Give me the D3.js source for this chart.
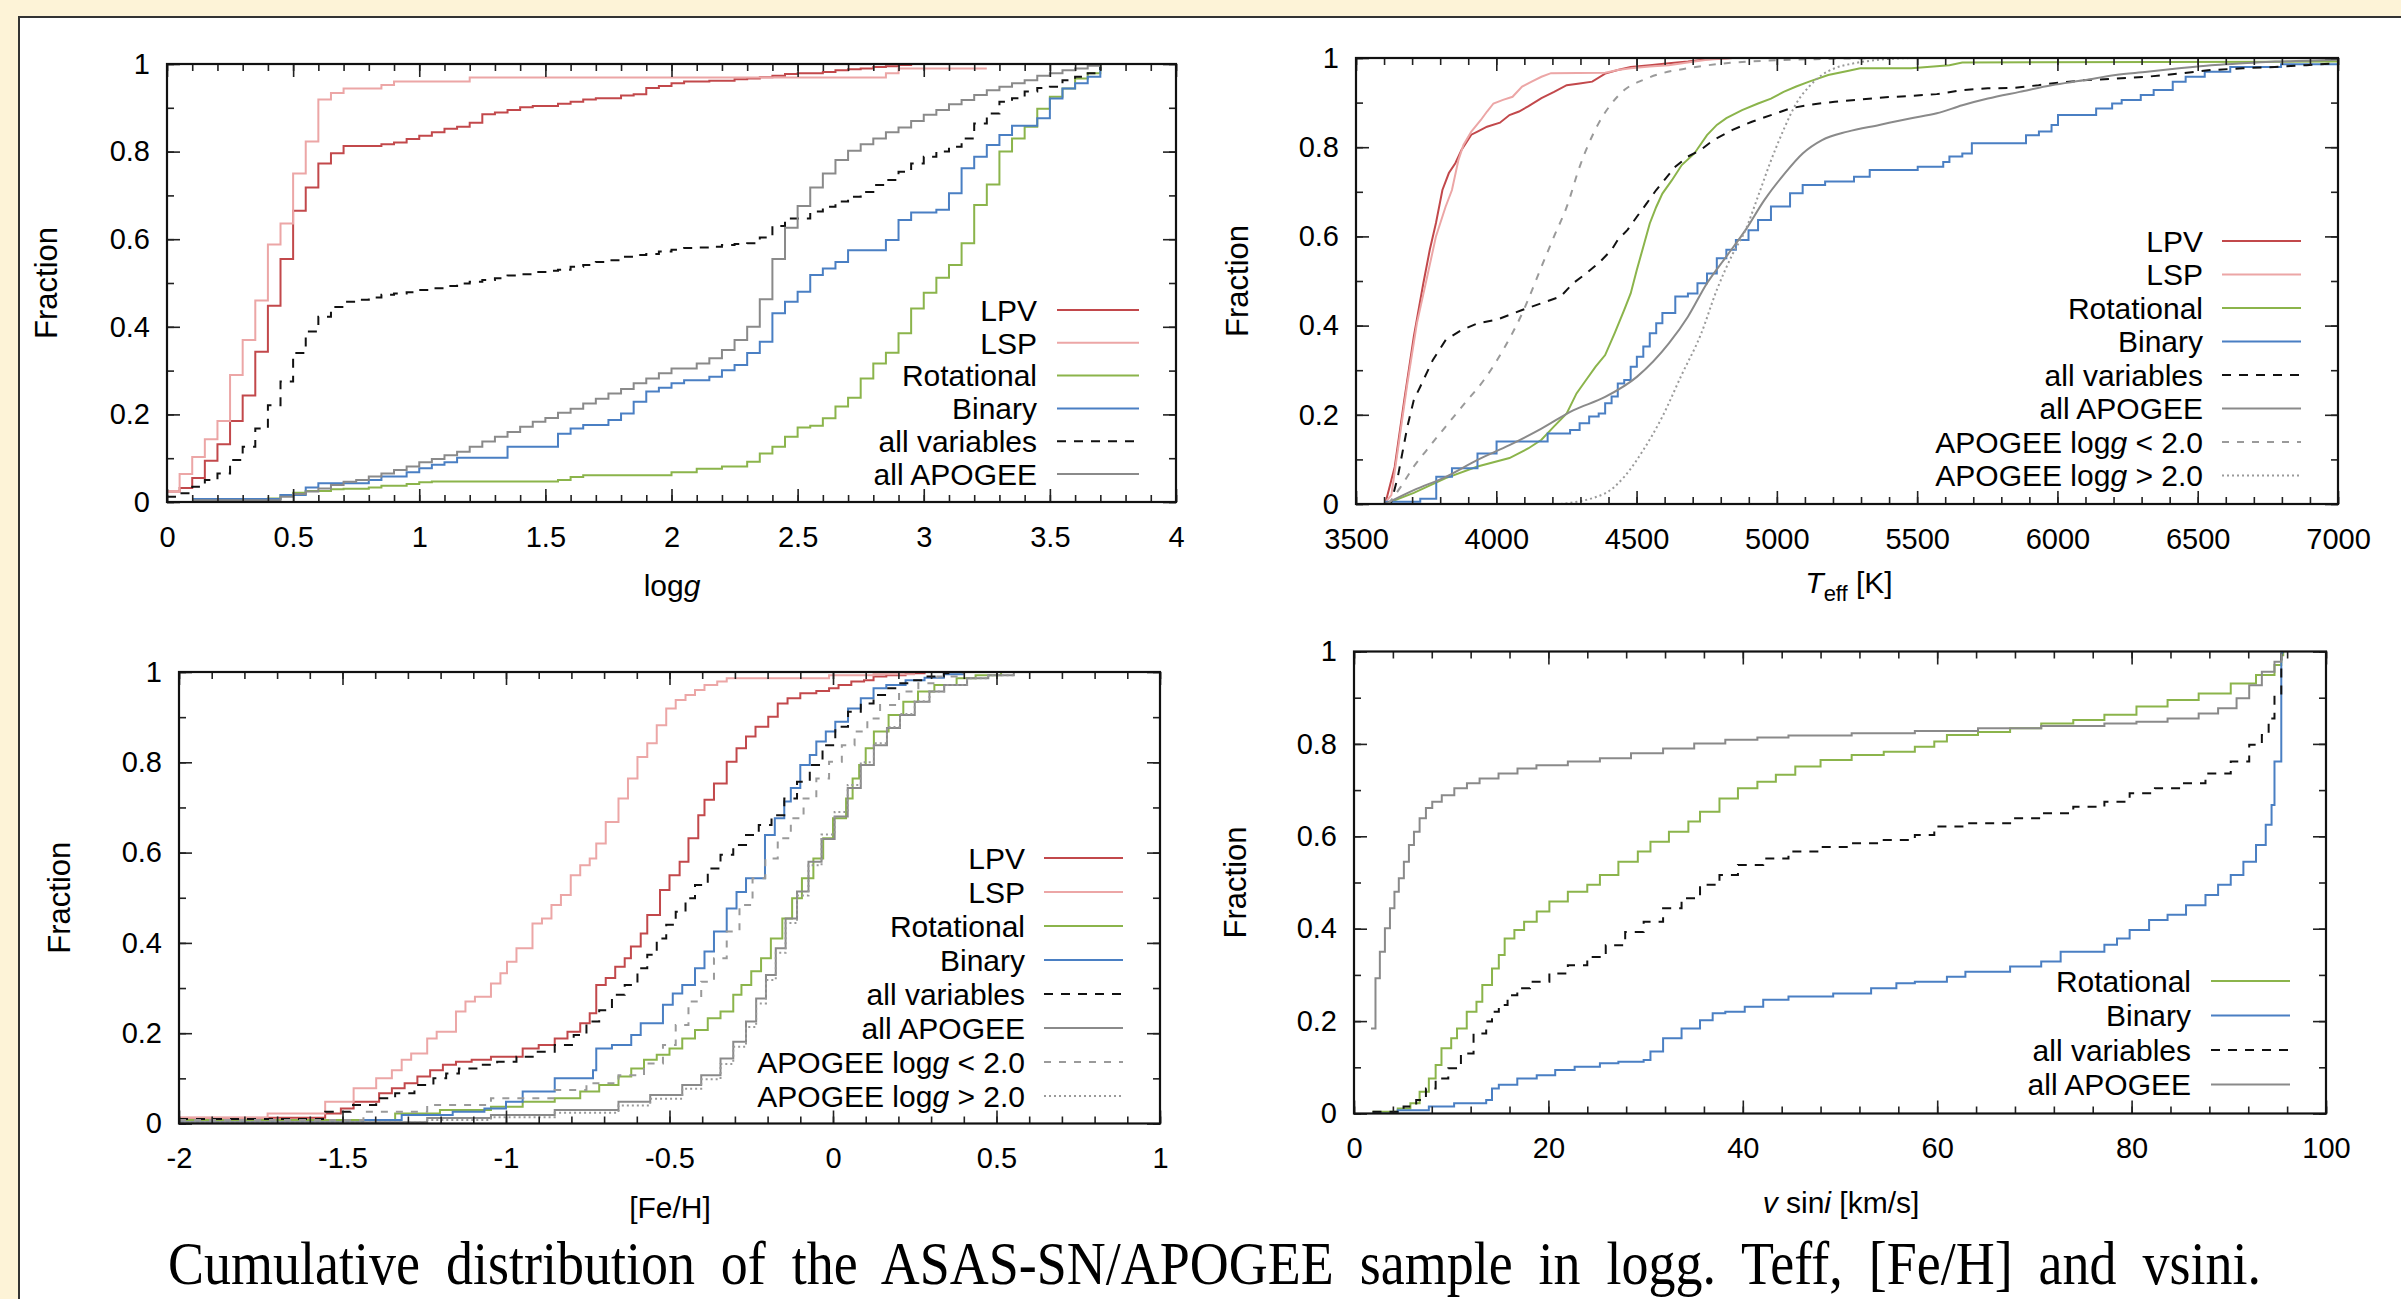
<!DOCTYPE html>
<html>
<head>
<meta charset="utf-8">
<script src="https://cdn.jsdelivr.net/npm/d3@7"></script>
<style>
  body { margin: 0; background: #fdf3d7; }
  svg { display: block; }
  text { font-family: 'Liberation Sans', Arial, sans-serif; fill: #000; }
  text.caption { font-family: 'Liberation Serif', 'DejaVu Serif', serif; }
</style>
</head>
<body>
<svg id="fig" width="2401" height="1299"></svg>
<script>
// ---- data: cumulative fractions, [x, F] ----

// logg panel
const loggLPV = [[0,0.024],[0.05,0.032],[0.1,0.055],[0.15,0.094],[0.2,0.132],[0.25,0.185],[0.3,0.243],[0.35,0.343],[0.4,0.448],[0.45,0.555],[0.5,0.665],[0.55,0.718],[0.6,0.773],[0.65,0.796],[0.7,0.813],[0.85,0.817],[0.9,0.821],[0.95,0.829],[1.0,0.836],[1.05,0.844],[1.1,0.852],[1.15,0.857],[1.2,0.866],[1.25,0.885],[1.3,0.889],[1.35,0.895],[1.4,0.901],[1.45,0.904],[1.55,0.909],[1.6,0.914],[1.65,0.919],[1.7,0.922],[1.8,0.928],[1.85,0.931],[1.9,0.945],[1.95,0.95],[2.0,0.956],[2.05,0.96],[2.15,0.962],[2.25,0.965],[2.3,0.967],[2.35,0.97],[2.4,0.973],[2.45,0.977],[2.5,0.979],[2.6,0.982],[2.65,0.986],[2.7,0.988],[2.75,0.99],[2.8,0.993],[2.85,0.995],[2.9,0.998],[2.95,1.0],[3.05,1.0]];
const loggLSP = [[0,0.024],[0.05,0.064],[0.1,0.103],[0.15,0.143],[0.2,0.185],[0.25,0.29],[0.3,0.37],[0.35,0.46],[0.4,0.588],[0.45,0.636],[0.5,0.75],[0.55,0.823],[0.6,0.919],[0.65,0.934],[0.7,0.944],[0.85,0.952],[0.9,0.96],[1.2,0.969],[2.85,0.979],[2.9,0.99],[3.25,0.99]];
const loggRot = [[0.35,0.0],[0.4,0.008],[0.45,0.016],[0.5,0.021],[0.55,0.025],[0.65,0.029],[0.7,0.03],[0.8,0.033],[0.85,0.037],[0.95,0.041],[1.0,0.045],[1.05,0.047],[1.55,0.05],[1.6,0.057],[1.65,0.061],[2.0,0.068],[2.1,0.076],[2.2,0.081],[2.3,0.092],[2.35,0.111],[2.4,0.126],[2.45,0.149],[2.5,0.17],[2.55,0.174],[2.6,0.191],[2.65,0.218],[2.7,0.238],[2.75,0.282],[2.8,0.316],[2.85,0.341],[2.9,0.385],[2.95,0.442],[3.0,0.478],[3.05,0.512],[3.1,0.541],[3.15,0.591],[3.2,0.678],[3.25,0.725],[3.3,0.8],[3.35,0.83],[3.4,0.857],[3.45,0.898],[3.5,0.925],[3.55,0.944],[3.6,0.967],[3.65,0.979],[3.7,0.998]];
const loggBin = [[0.1,0.007],[0.45,0.016],[0.55,0.033],[0.6,0.043],[0.8,0.05],[0.85,0.058],[0.95,0.068],[1.0,0.077],[1.05,0.085],[1.1,0.091],[1.15,0.101],[1.35,0.126],[1.55,0.156],[1.6,0.168],[1.65,0.176],[1.75,0.187],[1.8,0.202],[1.85,0.229],[1.9,0.252],[1.95,0.261],[2.0,0.271],[2.05,0.278],[2.15,0.286],[2.2,0.301],[2.25,0.313],[2.3,0.34],[2.35,0.366],[2.4,0.431],[2.45,0.457],[2.5,0.48],[2.55,0.518],[2.6,0.533],[2.65,0.548],[2.7,0.575],[2.85,0.598],[2.9,0.644],[2.95,0.661],[3.05,0.667],[3.1,0.705],[3.15,0.762],[3.2,0.788],[3.25,0.815],[3.3,0.838],[3.35,0.859],[3.45,0.876],[3.5,0.921],[3.55,0.944],[3.6,0.956],[3.65,0.971],[3.7,0.994]];
const loggAllVar = [[0,0.012],[0.05,0.02],[0.1,0.035],[0.15,0.05],[0.2,0.065],[0.25,0.096],[0.3,0.126],[0.35,0.168],[0.4,0.221],[0.45,0.275],[0.5,0.34],[0.55,0.389],[0.6,0.423],[0.65,0.445],[0.7,0.457],[0.75,0.462],[0.8,0.467],[0.85,0.473],[0.9,0.476],[0.95,0.479],[1.0,0.484],[1.05,0.488],[1.1,0.493],[1.15,0.499],[1.2,0.503],[1.25,0.507],[1.3,0.511],[1.35,0.517],[1.4,0.52],[1.45,0.525],[1.5,0.528],[1.55,0.53],[1.6,0.537],[1.65,0.541],[1.7,0.548],[1.75,0.552],[1.8,0.56],[1.85,0.564],[1.9,0.566],[1.95,0.572],[2.0,0.576],[2.05,0.58],[2.1,0.581],[2.15,0.583],[2.2,0.587],[2.25,0.589],[2.3,0.591],[2.35,0.604],[2.4,0.63],[2.45,0.647],[2.55,0.663],[2.6,0.674],[2.65,0.686],[2.7,0.697],[2.75,0.708],[2.8,0.724],[2.85,0.735],[2.9,0.754],[2.95,0.773],[3.0,0.788],[3.05,0.8],[3.1,0.811],[3.15,0.83],[3.2,0.864],[3.25,0.887],[3.3,0.914],[3.35,0.922],[3.4,0.937],[3.45,0.945],[3.5,0.948],[3.55,0.963],[3.6,0.971],[3.65,0.979],[3.7,0.994]];
const loggApogee = [[0.1,0.004],[0.45,0.012],[0.5,0.018],[0.55,0.024],[0.6,0.031],[0.65,0.039],[0.7,0.046],[0.75,0.05],[0.8,0.058],[0.85,0.065],[0.9,0.073],[0.95,0.081],[1.0,0.091],[1.05,0.098],[1.1,0.107],[1.15,0.115],[1.2,0.126],[1.25,0.138],[1.3,0.149],[1.35,0.16],[1.4,0.172],[1.45,0.183],[1.5,0.192],[1.55,0.204],[1.6,0.213],[1.65,0.225],[1.7,0.236],[1.75,0.248],[1.8,0.258],[1.85,0.271],[1.9,0.282],[1.95,0.294],[2.0,0.305],[2.1,0.316],[2.15,0.328],[2.2,0.347],[2.25,0.37],[2.3,0.40],[2.35,0.463],[2.4,0.555],[2.45,0.626],[2.5,0.676],[2.55,0.718],[2.6,0.75],[2.65,0.781],[2.7,0.802],[2.75,0.817],[2.8,0.83],[2.85,0.844],[2.9,0.855],[2.95,0.87],[3.0,0.884],[3.05,0.895],[3.1,0.908],[3.15,0.918],[3.2,0.929],[3.25,0.94],[3.3,0.948],[3.35,0.956],[3.4,0.963],[3.45,0.973],[3.5,0.979],[3.55,0.986],[3.6,0.99],[3.65,0.996],[3.7,1.0]];

// Teff panel
const teffLPV = [[3604,0],[3638,0.083],[3672,0.233],[3706,0.375],[3740,0.495],[3763,0.57],[3785,0.63],[3808,0.704],[3831,0.742],[3854,0.764],[3876,0.794],[3911,0.828],[3933,0.835],[3967,0.846],[4013,0.855],[4047,0.872],[4081,0.88],[4115,0.892],[4161,0.91],[4206,0.924],[4251,0.939],[4297,0.943],[4342,0.947],[4388,0.965],[4433,0.973],[4479,0.98],[4547,0.984],[4615,0.988],[4683,0.992],[4751,0.997],[4842,1.0],[5388,1.0]];
const teffLSP = [[3600,0],[3626,0.02],[3649,0.121],[3683,0.27],[3717,0.405],[3751,0.502],[3785,0.6],[3819,0.666],[3842,0.704],[3865,0.771],[3883,0.805],[3911,0.835],[3945,0.861],[3967,0.88],[3990,0.898],[4024,0.906],[4058,0.913],[4092,0.936],[4126,0.947],[4161,0.958],[4195,0.966],[4388,0.967],[4433,0.973],[4479,0.977],[4547,0.981],[4615,0.984],[4706,0.992],[4751,0.996],[4842,1.0],[5300,1.0]];
const teffRot = [[3604,0],[3706,0.025],[3820,0.058],[3933,0.084],[4047,0.103],[4115,0.125],[4161,0.144],[4206,0.174],[4251,0.203],[4286,0.248],[4320,0.278],[4354,0.308],[4388,0.334],[4422,0.383],[4456,0.435],[4479,0.472],[4501,0.525],[4524,0.577],[4547,0.629],[4570,0.666],[4592,0.696],[4626,0.726],[4661,0.76],[4706,0.786],[4751,0.827],[4786,0.85],[4820,0.865],[4876,0.883],[4933,0.898],[4979,0.909],[5024,0.924],[5069,0.936],[5115,0.947],[5183,0.962],[5252,0.971],[5297,0.977],[5479,0.977],[5615,0.984],[5661,0.99],[7000,0.992]];
const teffBin = [[3604,0.005],[3729,0.012],[3786,0.061],[3842,0.08],[3933,0.113],[4001,0.14],[4183,0.158],[4263,0.166],[4297,0.181],[4331,0.196],[4365,0.203],[4388,0.226],[4411,0.241],[4433,0.27],[4456,0.278],[4479,0.308],[4501,0.33],[4524,0.353],[4547,0.383],[4570,0.405],[4592,0.428],[4638,0.465],[4683,0.472],[4717,0.495],[4751,0.517],[4786,0.551],[4820,0.57],[4854,0.592],[4899,0.614],[4933,0.637],[4979,0.667],[5047,0.697],[5092,0.715],[5172,0.723],[5275,0.734],[5331,0.749],[5502,0.756],[5593,0.767],[5615,0.779],[5661,0.786],[5695,0.809],[5888,0.827],[5934,0.835],[5979,0.85],[6002,0.872],[6138,0.887],[6195,0.898],[6229,0.906],[6297,0.917],[6343,0.928],[6411,0.947],[6457,0.958],[6525,0.969],[6616,0.98],[6797,0.986],[7000,0.992]];
const teffAllVar = [[3604,0],[3626,0.005],[3649,0.061],[3683,0.173],[3706,0.233],[3729,0.263],[3774,0.323],[3820,0.368],[3876,0.39],[3933,0.405],[4001,0.413],[4047,0.424],[4092,0.435],[4161,0.45],[4229,0.465],[4274,0.495],[4320,0.517],[4365,0.54],[4411,0.57],[4433,0.592],[4467,0.614],[4501,0.644],[4536,0.674],[4570,0.704],[4604,0.73],[4638,0.756],[4683,0.779],[4729,0.794],[4774,0.816],[4842,0.839],[4911,0.857],[4979,0.872],[5047,0.887],[5115,0.895],[5206,0.902],[5297,0.907],[5388,0.912],[5479,0.915],[5570,0.919],[5661,0.928],[5752,0.932],[5843,0.933],[5933,0.939],[5979,0.943],[6093,0.95],[6207,0.954],[6320,0.958],[6434,0.965],[6548,0.973],[6661,0.977],[6775,0.98],[6888,0.984],[7000,0.988]];
const teffApogee = [[3604,0],[3706,0.031],[3820,0.061],[3933,0.099],[4047,0.132],[4161,0.169],[4274,0.21],[4388,0.24],[4501,0.285],[4615,0.36],[4683,0.42],[4751,0.495],[4820,0.555],[4888,0.614],[4956,0.682],[5024,0.738],[5092,0.786],[5161,0.816],[5252,0.835],[5365,0.85],[5479,0.865],[5570,0.876],[5661,0.894],[5752,0.909],[5865,0.924],[5979,0.939],[6093,0.95],[6207,0.962],[6320,0.969],[6434,0.977],[6548,0.984],[6661,0.988],[6775,0.992],[6888,0.994],[7000,0.996]];
const teffLow = [[3615,0],[3660,0.039],[3706,0.084],[3752,0.121],[3820,0.174],[3888,0.226],[3956,0.278],[4024,0.345],[4092,0.427],[4161,0.532],[4206,0.6],[4251,0.666],[4297,0.756],[4365,0.854],[4411,0.898],[4456,0.928],[4524,0.951],[4592,0.966],[4683,0.977],[4797,0.987],[4956,0.994],[5183,0.998],[5411,1.0]];
const teffHigh = [[4229,0],[4388,0.024],[4456,0.061],[4524,0.121],[4592,0.196],[4661,0.29],[4729,0.38],[4786,0.48],[4842,0.56],[4888,0.614],[4933,0.69],[4979,0.77],[5024,0.839],[5069,0.898],[5115,0.936],[5161,0.962],[5206,0.977],[5274,0.988],[5365,0.996],[5479,1.0]];

// [Fe/H] panel
const fehLPV = [[-2,0.013],[-1.553,0.022],[-1.505,0.033],[-1.466,0.048],[-1.388,0.067],[-1.349,0.078],[-1.31,0.089],[-1.271,0.104],[-1.232,0.118],[-1.193,0.13],[-1.153,0.137],[-1.105,0.141],[-1.046,0.148],[-0.949,0.166],[-0.9,0.174],[-0.851,0.188],[-0.812,0.203],[-0.773,0.222],[-0.744,0.244],[-0.724,0.307],[-0.695,0.322],[-0.666,0.347],[-0.637,0.366],[-0.618,0.392],[-0.588,0.421],[-0.568,0.462],[-0.529,0.517],[-0.5,0.55],[-0.469,0.58],[-0.442,0.632],[-0.412,0.683],[-0.393,0.717],[-0.364,0.753],[-0.325,0.801],[-0.295,0.831],[-0.266,0.857],[-0.237,0.879],[-0.198,0.901],[-0.169,0.93],[-0.139,0.942],[-0.1,0.953],[-0.051,0.958],[-0.012,0.964],[0.017,0.971],[0.056,0.979],[0.095,0.982],[0.124,0.99],[0.163,0.993],[0.222,0.997],[0.28,1.0]];
const fehLSP = [[-2,0.013],[-1.729,0.022],[-1.553,0.048],[-1.466,0.078],[-1.397,0.1],[-1.349,0.118],[-1.319,0.141],[-1.29,0.155],[-1.241,0.188],[-1.212,0.203],[-1.153,0.248],[-1.124,0.27],[-1.095,0.281],[-1.046,0.31],[-1.017,0.333],[-0.997,0.358],[-0.968,0.388],[-0.919,0.443],[-0.89,0.454],[-0.861,0.484],[-0.832,0.506],[-0.802,0.55],[-0.773,0.572],[-0.744,0.587],[-0.724,0.62],[-0.695,0.668],[-0.656,0.72],[-0.627,0.764],[-0.598,0.812],[-0.568,0.842],[-0.539,0.882],[-0.51,0.919],[-0.481,0.938],[-0.451,0.949],[-0.422,0.96],[-0.393,0.971],[-0.354,0.979],[-0.325,0.986],[-0.012,0.993],[0.124,0.995],[0.251,0.995]];
const fehRot = [[-2,0.008],[-1.339,0.022],[-1.202,0.03],[-1.046,0.037],[-0.949,0.048],[-0.851,0.056],[-0.773,0.071],[-0.715,0.085],[-0.656,0.104],[-0.617,0.122],[-0.578,0.141],[-0.539,0.152],[-0.5,0.166],[-0.461,0.188],[-0.422,0.207],[-0.383,0.233],[-0.344,0.248],[-0.305,0.285],[-0.28,0.307],[-0.25,0.337],[-0.22,0.366],[-0.19,0.41],[-0.155,0.454],[-0.125,0.499],[-0.095,0.543],[-0.06,0.587],[-0.03,0.632],[0.0,0.676],[0.04,0.72],[0.06,0.764],[0.08,0.794],[0.1,0.831],[0.125,0.868],[0.17,0.905],[0.215,0.934],[0.26,0.957],[0.31,0.971],[0.378,0.986],[0.436,0.993],[0.514,1.0]];
const fehBin = [[-2,0.003],[-1.436,0.008],[-1.319,0.019],[-1.163,0.026],[-1.066,0.033],[-1.0,0.048],[-0.949,0.071],[-0.851,0.1],[-0.734,0.118],[-0.724,0.166],[-0.676,0.174],[-0.617,0.196],[-0.588,0.222],[-0.52,0.263],[-0.49,0.288],[-0.461,0.307],[-0.422,0.344],[-0.393,0.381],[-0.364,0.425],[-0.325,0.476],[-0.295,0.513],[-0.266,0.543],[-0.208,0.639],[-0.178,0.676],[-0.149,0.713],[-0.129,0.743],[-0.1,0.794],[-0.071,0.816],[-0.051,0.846],[-0.022,0.868],[0.007,0.89],[0.046,0.919],[0.085,0.942],[0.124,0.964],[0.163,0.971],[0.222,0.982],[0.28,0.987],[0.339,0.995],[0.397,1.0]];
const fehAllVar = [[-2,0.01],[-1.553,0.026],[-1.475,0.041],[-1.397,0.056],[-1.339,0.067],[-1.28,0.085],[-1.222,0.1],[-1.183,0.111],[-1.144,0.122],[-1.085,0.13],[-1.027,0.137],[-0.968,0.148],[-0.91,0.159],[-0.851,0.174],[-0.793,0.196],[-0.754,0.226],[-0.715,0.251],[-0.676,0.285],[-0.637,0.307],[-0.598,0.344],[-0.568,0.374],[-0.539,0.41],[-0.51,0.44],[-0.481,0.469],[-0.451,0.499],[-0.422,0.528],[-0.383,0.565],[-0.344,0.595],[-0.305,0.617],[-0.266,0.639],[-0.227,0.661],[-0.188,0.683],[-0.149,0.72],[-0.11,0.757],[-0.071,0.794],[-0.032,0.838],[0.007,0.879],[0.046,0.912],[0.085,0.93],[0.124,0.949],[0.163,0.964],[0.202,0.975],[0.241,0.982],[0.28,0.99],[0.339,0.997],[0.378,1.0]];
const fehApogee = [[-2,0.003],[-1.241,0.012],[-1.046,0.019],[-0.851,0.03],[-0.656,0.048],[-0.559,0.063],[-0.461,0.085],[-0.403,0.107],[-0.344,0.144],[-0.305,0.181],[-0.266,0.226],[-0.235,0.277],[-0.205,0.329],[-0.175,0.388],[-0.145,0.454],[-0.11,0.514],[-0.075,0.58],[-0.035,0.63],[0.005,0.68],[0.045,0.743],[0.085,0.794],[0.125,0.838],[0.165,0.876],[0.205,0.905],[0.25,0.934],[0.295,0.957],[0.34,0.971],[0.41,0.986],[0.475,0.993],[0.553,1.0]];
const fehLow = [[-2,0.008],[-1.436,0.026],[-1.241,0.041],[-1.046,0.056],[-0.851,0.074],[-0.754,0.089],[-0.656,0.107],[-0.578,0.133],[-0.52,0.174],[-0.481,0.218],[-0.442,0.27],[-0.403,0.314],[-0.364,0.366],[-0.325,0.425],[-0.286,0.484],[-0.246,0.543],[-0.207,0.587],[-0.169,0.632],[-0.129,0.676],[-0.09,0.72],[-0.051,0.764],[-0.012,0.801],[0.027,0.838],[0.066,0.868],[0.105,0.897],[0.144,0.927],[0.202,0.957],[0.261,0.975],[0.319,0.99],[0.397,1.0]];
const fehHigh = [[-2,0.002],[-1.241,0.008],[-1.046,0.014],[-0.851,0.024],[-0.656,0.04],[-0.559,0.055],[-0.461,0.077],[-0.403,0.098],[-0.344,0.132],[-0.305,0.17],[-0.266,0.214],[-0.235,0.266],[-0.205,0.318],[-0.175,0.378],[-0.145,0.444],[-0.11,0.505],[-0.075,0.572],[-0.035,0.64],[0.005,0.69],[0.045,0.75],[0.085,0.8],[0.125,0.842],[0.165,0.878],[0.205,0.907],[0.25,0.935],[0.295,0.957],[0.34,0.971],[0.41,0.986],[0.475,0.993],[0.553,1.0]];

// vsini panel
const vsRot = [[1.9,0.004],[4.5,0.011],[5.8,0.022],[6.75,0.047],[7.7,0.076],[8.4,0.105],[9.0,0.141],[10.0,0.163],[10.6,0.184],[11.6,0.22],[12.6,0.242],[13.2,0.278],[14.2,0.314],[14.9,0.343],[15.5,0.379],[16.5,0.397],[17.5,0.415],[18.8,0.437],[20.1,0.459],[22.0,0.48],[24.0,0.495],[25.3,0.516],[27.2,0.545],[29.2,0.567],[30.5,0.588],[32.4,0.61],[34.4,0.632],[35.6,0.653],[37.6,0.682],[39.5,0.704],[41.5,0.718],[43.4,0.733],[45.4,0.751],[48.0,0.765],[51.2,0.776],[54.5,0.783],[57.7,0.794],[59.7,0.805],[61.0,0.819],[64.2,0.826],[67.5,0.834],[70.7,0.844],[74.0,0.852],[77.2,0.863],[80.5,0.881],[83.7,0.895],[86.9,0.909],[90.2,0.931],[92.8,0.949],[94.7,0.971],[95.4,0.992],[95.6,1.0]];
const vsBin = [[1.9,0.0],[4.5,0.007],[7.7,0.015],[10.3,0.022],[13.6,0.029],[14.2,0.054],[14.9,0.062],[16.8,0.076],[18.8,0.083],[20.7,0.094],[22.7,0.101],[25.3,0.109],[27.2,0.112],[29.8,0.116],[30.5,0.134],[31.8,0.163],[33.7,0.184],[35.6,0.202],[36.9,0.217],[38.2,0.22],[40.2,0.231],[42.1,0.246],[44.7,0.253],[49.3,0.26],[53.2,0.271],[55.8,0.282],[57.7,0.285],[61.0,0.296],[62.9,0.307],[67.5,0.318],[70.7,0.329],[72.7,0.35],[77.2,0.365],[78.5,0.379],[79.8,0.397],[81.8,0.419],[83.7,0.43],[85.6,0.451],[87.6,0.473],[88.9,0.495],[90.2,0.516],[91.5,0.545],[92.8,0.581],[93.8,0.625],[94.4,0.668],[94.7,0.762],[95.4,0.996],[95.5,1.0]];
const vsAllVar = [[1.9,0.004],[5.1,0.015],[6.4,0.029],[7.4,0.054],[8.4,0.076],[9.7,0.098],[11.0,0.13],[12.3,0.173],[13.6,0.199],[14.2,0.22],[14.9,0.235],[15.8,0.256],[16.8,0.271],[18.1,0.285],[20.1,0.303],[22.0,0.321],[24.0,0.339],[25.9,0.364],[27.9,0.393],[29.8,0.415],[31.8,0.444],[33.7,0.466],[35.6,0.495],[37.6,0.516],[39.5,0.538],[42.1,0.552],[44.7,0.567],[48.0,0.577],[51.2,0.585],[54.5,0.592],[57.7,0.603],[59.7,0.621],[62.9,0.628],[67.5,0.639],[70.7,0.65],[74.0,0.664],[77.2,0.675],[79.8,0.693],[82.4,0.704],[85.0,0.715],[87.6,0.736],[90.2,0.762],[92.1,0.798],[93.4,0.819],[94.1,0.855],[94.7,0.906],[95.4,0.996]];
const vsApogee = [[1.75,0.184],[2.21,0.293],[2.66,0.35],[3.18,0.401],[3.7,0.444],[4.16,0.48],[4.61,0.509],[5.13,0.545],[5.65,0.581],[6.17,0.61],[6.75,0.639],[7.4,0.661],[8.05,0.675],[9.03,0.689],[10.32,0.704],[11.62,0.715],[12.92,0.725],[14.87,0.736],[16.82,0.747],[18.77,0.754],[22.0,0.762],[25.3,0.769],[28.5,0.78],[31.8,0.79],[35.0,0.801],[38.2,0.809],[41.5,0.814],[44.7,0.818],[51.2,0.823],[57.7,0.828],[64.2,0.834],[70.7,0.839],[77.2,0.844],[80.5,0.848],[83.7,0.855],[86.9,0.866],[88.9,0.877],[90.8,0.899],[92.1,0.927],[93.4,0.956],[94.7,0.978],[95.4,0.996]];

const captionText = 'Cumulative distribution of the ASAS-SN/APOGEE sample in logg. Teff, [Fe/H] and vsini.';

// ---- styles ----
const styles = {
  'LPV':        { color: '#c2484b' },
  'LSP':        { color: '#eca6a6' },
  'Rotational': { color: '#8bb44b' },
  'Binary':     { color: '#4a7fc3' },
  'all variables': { color: '#111111', dash: '9,8' },
  'all APOGEE': { color: '#8a8a8a' },
  'low':        { color: '#9a9a9a', dash: '7,8' },
  'high':       { color: '#9a9a9a', dash: '2,3' }
};
const labels = {
  'low':  [['APOGEE log', ''], ['g', 'italic'], [' < 2.0', '']],
  'high': [['APOGEE log', ''], ['g', 'italic'], [' > 2.0', '']]
};

const step = d3.curveStepAfter, lin = d3.curveLinear, smooth = d3.curveMonotoneX;

const panels = [
  { box: { l: 167, t: 64, r: 1176, b: 502 }, xDomain: [0, 4], xMajor: 0.5, xMinor: 0.1,
    xTitle: [['log', ''], ['g', 'italic']], xTitleX: 672, xTitleY: 596, yTitleX: 57,
    legend: { right: 1037, line: [1057, 1139], y0: 310, dy: 32.8 },
    series: [['LPV', loggLPV, step], ['LSP', loggLSP, step], ['Rotational', loggRot, step], ['Binary', loggBin, step],
             ['all variables', loggAllVar, step], ['all APOGEE', loggApogee, step]] },
  { box: { l: 1356, t: 58, r: 2338, b: 504 }, xDomain: [3500, 7000], xMajor: 500, xMinor: 100,
    xTitle: 'teff', xTitleX: 1849, xTitleY: 593, yTitleX: 1248,
    legend: { right: 2203, line: [2222, 2301], y0: 241, dy: 33.5 },
    series: [['LPV', teffLPV, lin], ['LSP', teffLSP, lin], ['Rotational', teffRot, lin], ['Binary', teffBin, step],
             ['all variables', teffAllVar, lin], ['all APOGEE', teffApogee, smooth], ['low', teffLow, smooth], ['high', teffHigh, smooth]] },
  { box: { l: 179, t: 672, r: 1160, b: 1123.5 }, xDomain: [-2, 1], xMajor: 0.5, xMinor: 0.1,
    xTitle: [['[Fe/H]', '']], xTitleX: 670, xTitleY: 1218, yTitleX: 70,
    legend: { right: 1025, line: [1044, 1123], y0: 858, dy: 34 },
    series: [['LPV', fehLPV, step], ['LSP', fehLSP, step], ['Rotational', fehRot, step], ['Binary', fehBin, step],
             ['all variables', fehAllVar, step], ['all APOGEE', fehApogee, step], ['low', fehLow, step], ['high', fehHigh, step]] },
  { box: { l: 1354, t: 651.5, r: 2326, b: 1113.5 }, xDomain: [0, 100], xMajor: 20, xMinor: 4,
    xTitle: [['v', 'italic'], [' sin', ''], ['i', 'italic'], [' [km/s]', '']], xTitleX: 1841, xTitleY: 1213, yTitleX: 1246,
    legend: { right: 2191, line: [2211, 2290], y0: 981, dy: 34.5 },
    series: [['Rotational', vsRot, step], ['Binary', vsBin, step], ['all variables', vsAllVar, step], ['all APOGEE', vsApogee, step]] }
];

const svg = d3.select('#fig');

// page frame
svg.append('rect').attr('x', 19).attr('y', 17).attr('width', 2401 - 19).attr('height', 1299 - 17).attr('fill', '#fff');
svg.append('path').attr('d', 'M19,1299V17H2401').attr('fill', 'none').attr('stroke', '#333').attr('stroke-width', 2);

function tickVals(domain, stepSize) {
  const n = Math.round((domain[1] - domain[0]) / stepSize);
  return d3.range(n + 1).map(i => +(domain[0] + i * stepSize).toFixed(6));
}
const fmt = d => String(+d.toFixed(3));

function addSegments(textSel, segs) {
  segs.forEach(([s, style]) => {
    const t = textSel.append('tspan').text(s);
    if (style) t.attr('font-style', style);
  });
}

panels.forEach((p, pi) => {
  const x = d3.scaleLinear().domain(p.xDomain).range([p.box.l, p.box.r]);
  const y = d3.scaleLinear().domain([0, 1]).range([p.box.b, p.box.t]);
  const g = svg.append('g');
  const w = p.box.r - p.box.l, h = p.box.b - p.box.t;

  g.append('clipPath').attr('id', 'clip' + pi).append('rect')
    .attr('x', p.box.l).attr('y', p.box.t - 2).attr('width', w).attr('height', h + 2);

  // curves
  const curves = g.append('g').attr('clip-path', `url(#clip${pi})`);
  p.series.forEach(([key, data, curve]) => {
    const st = styles[key];
    const line = d3.line().x(d => x(d[0])).y(d => y(d[1])).curve(curve);
    curves.append('path').datum(data).attr('d', line)
      .attr('fill', 'none').attr('stroke', st.color).attr('stroke-width', 2)
      .attr('stroke-dasharray', st.dash || null);
  });

  // axes (ticks inward on all sides)
  const xMaj = tickVals(p.xDomain, p.xMajor), xMin = tickVals(p.xDomain, p.xMinor);
  const yMaj = tickVals([0, 1], 0.2), yMin = tickVals([0, 1], 0.1);
  const axes = [
    [d3.axisBottom(x).tickValues(xMin).tickSize(-7).tickFormat(''), `translate(0,${p.box.b})`],
    [d3.axisTop(x).tickValues(xMin).tickSize(-7).tickFormat(''), `translate(0,${p.box.t})`],
    [d3.axisTop(x).tickValues(xMaj).tickSize(-13).tickFormat(''), `translate(0,${p.box.t})`],
    [d3.axisBottom(x).tickValues(xMaj).tickSize(-13).tickPadding(24).tickFormat(fmt), `translate(0,${p.box.b})`],
    [d3.axisLeft(y).tickValues(yMin).tickSize(-7).tickFormat(''), `translate(${p.box.l},0)`],
    [d3.axisRight(y).tickValues(yMin).tickSize(-7).tickFormat(''), `translate(${p.box.r},0)`],
    [d3.axisRight(y).tickValues(yMaj).tickSize(-13).tickFormat(''), `translate(${p.box.r},0)`],
    [d3.axisLeft(y).tickValues(yMaj).tickSize(-13).tickPadding(17).tickFormat(fmt), `translate(${p.box.l},0)`]
  ];
  axes.forEach(([ax, tr]) => {
    const a = g.append('g').attr('transform', tr).call(ax);
    a.select('.domain').remove();
    a.selectAll('line').attr('stroke', '#222').attr('stroke-width', 1.6);
    a.selectAll('text').attr('font-size', 29).attr('fill', '#000')
      .attr('font-family', "'Liberation Sans', Arial, sans-serif");
  });

  // frame
  g.append('rect').attr('x', p.box.l).attr('y', p.box.t).attr('width', w).attr('height', h)
    .attr('fill', 'none').attr('stroke', '#111').attr('stroke-width', 2.2);

  // y title
  g.append('text').attr('transform', `translate(${p.yTitleX},${(p.box.t + p.box.b) / 2}) rotate(-90)`)
    .attr('text-anchor', 'middle').attr('font-size', 31).text('Fraction');

  // x title
  const xt = g.append('text').attr('x', p.xTitleX).attr('y', p.xTitleY)
    .attr('text-anchor', 'middle').attr('font-size', 30);
  if (p.xTitle === 'teff') {
    xt.append('tspan').attr('font-style', 'italic').text('T');
    xt.append('tspan').attr('font-size', 22).attr('dy', 8).text('eff');
    xt.append('tspan').attr('dy', -8).text(' [K]');
  } else {
    addSegments(xt, p.xTitle);
  }

  // legend
  p.series.forEach(([key], i) => {
    const st = styles[key];
    const ly = p.legend.y0 + i * p.legend.dy;
    const t = g.append('text').attr('x', p.legend.right).attr('y', ly).attr('dy', '0.36em')
      .attr('text-anchor', 'end').attr('font-size', 30);
    addSegments(t, labels[key] || [[key, '']]);
    g.append('line').attr('x1', p.legend.line[0]).attr('x2', p.legend.line[1])
      .attr('y1', ly).attr('y2', ly)
      .attr('stroke', st.color).attr('stroke-width', 2).attr('stroke-dasharray', st.dash || null);
  });
});

// caption (serif, slightly tall glyphs, stretched across the width with word spacing)
const capX = 168, capY = 1284, capW = 2093;
const cap = svg.append('text').attr('class', 'caption')
  .attr('transform', `translate(${capX},${capY}) scale(1,1.12)`)
  .attr('font-size', 54).text(captionText);
const natural = cap.node().getComputedTextLength();
const spaces = captionText.split(' ').length - 1;
cap.attr('word-spacing', Math.max(0, (capW - natural) / spaces));
</script>
</body>
</html>
